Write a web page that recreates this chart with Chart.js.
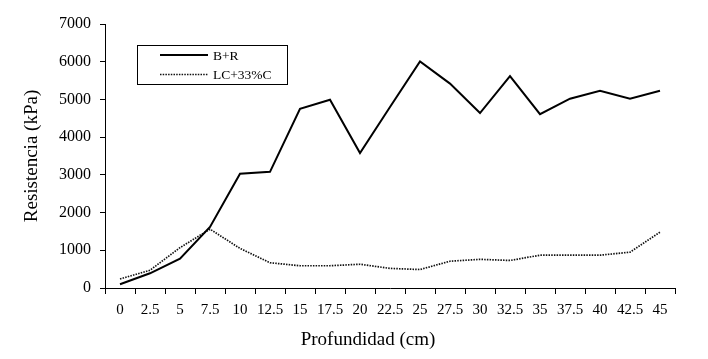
<!DOCTYPE html>
<html>
<head>
<meta charset="utf-8">
<script src="https://cdn.jsdelivr.net/npm/chart.js@4/dist/chart.umd.min.js"></script>
<style>
  html, body { margin: 0; padding: 0; background: #fff; }
  #wrap { width: 708px; height: 359px; }
</style>
</head>
<body>
<div id="wrap"><canvas id="chart" width="708" height="359"></canvas></div>
<script>
// ---------- data ----------
const depths = ["0", "2.5", "5", "7.5", "10", "12.5", "15", "17.5", "20", "22.5",
  "25", "27.5", "30", "32.5", "35", "37.5", "40", "42.5", "45"];

const brValues = [100, 390, 780, 1620, 3030, 3080, 4750, 4990, 3580, 4800,
  6010, 5420, 4640, 5620, 4610, 5020, 5230, 5020, 5230];

const lcValues = [240, 470, 1070, 1560, 1050, 670, 590, 590, 630, 520,
  490, 710, 760, 730, 870, 870, 870, 950, 1480];

const yTicks = [0, 1000, 2000, 3000, 4000, 5000, 6000, 7000];

const seriesNames = ["B+R", "LC+33%C"];
const xTitle = "Profundidad (cm)";
const yTitle = "Resistencia (kPa)";

const serif = "'Liberation Serif', 'Times New Roman', serif";

// boxed legend drawn inside the plot, like the original spreadsheet chart
const boxLegend = {
  id: "boxLegend",
  afterDraw(chart) {
    const ctx = chart.ctx;
    ctx.save();
    ctx.strokeStyle = "#000";
    ctx.lineWidth = 1;
    ctx.strokeRect(137.5, 45.5, 150, 39);
    ctx.font = "13.5px " + serif;
    ctx.textBaseline = "middle";
    ctx.fillStyle = "#000";
    chart.data.datasets.forEach((ds, i) => {
      const y = 55 + i * 19.5;
      ctx.beginPath();
      ctx.lineWidth = ds.borderWidth;
      ctx.strokeStyle = ds.borderColor;
      ctx.setLineDash(ds.borderDash || []);
      ctx.moveTo(160, y);
      ctx.lineTo(208, y);
      ctx.stroke();
      ctx.setLineDash([]);
      ctx.fillText(ds.label, 213, y + 1);
    });
    // x axis title (sits a bit left of the plot centre in the original)
    ctx.font = "19px " + serif;
    ctx.textAlign = "center";
    ctx.fillText(xTitle, 368, 340);
    ctx.restore();
  }
};

new Chart(document.getElementById("chart"), {
  type: "line",
  data: {
    labels: depths,
    datasets: [
      {
        label: seriesNames[0],
        data: brValues,
        borderColor: "#000",
        borderWidth: 2,
        pointRadius: 0,
        tension: 0,
        fill: false
      },
      {
        label: seriesNames[1],
        data: lcValues,
        borderColor: "#111",
        borderWidth: 1.7,
        borderDash: [1.5, 1.2],
        pointRadius: 0,
        tension: 0,
        fill: false
      }
    ]
  },
  options: {
    responsive: false,
    animation: false,
    layout: { padding: { left: 0, right: 33, top: 24, bottom: 0 } },
    plugins: {
      legend: { display: false },
      tooltip: { enabled: false }
    },
    scales: {
      x: {
        type: "category",
        offset: true,
        grid: { offset: true, drawOnChartArea: false, drawTicks: true, tickLength: 6, color: "#000" },
        border: { color: "#000", width: 1 },
        ticks: { color: "#000", font: { family: serif, size: 15 }, padding: 7, maxRotation: 0, autoSkip: false },
        afterFit(scale) { scale.height = 71; }
      },
      y: {
        min: 0,
        max: 7000,
        afterBuildTicks(scale) { scale.ticks = yTicks.map((v) => ({ value: v })); },
        grid: { drawOnChartArea: false, drawTicks: true, tickLength: 5, color: "#000" },
        border: { color: "#000", width: 1 },
        ticks: { color: "#000", font: { family: serif, size: 16 }, padding: 9, callback: (v) => String(v) },
        title: { display: true, text: yTitle, color: "#000", font: { family: serif, size: 19 }, padding: { top: 21, bottom: 0 } },
        afterFit(scale) { scale.width = 105; }
      }
    }
  },
  plugins: [boxLegend]
});
</script>
</body>
</html>
